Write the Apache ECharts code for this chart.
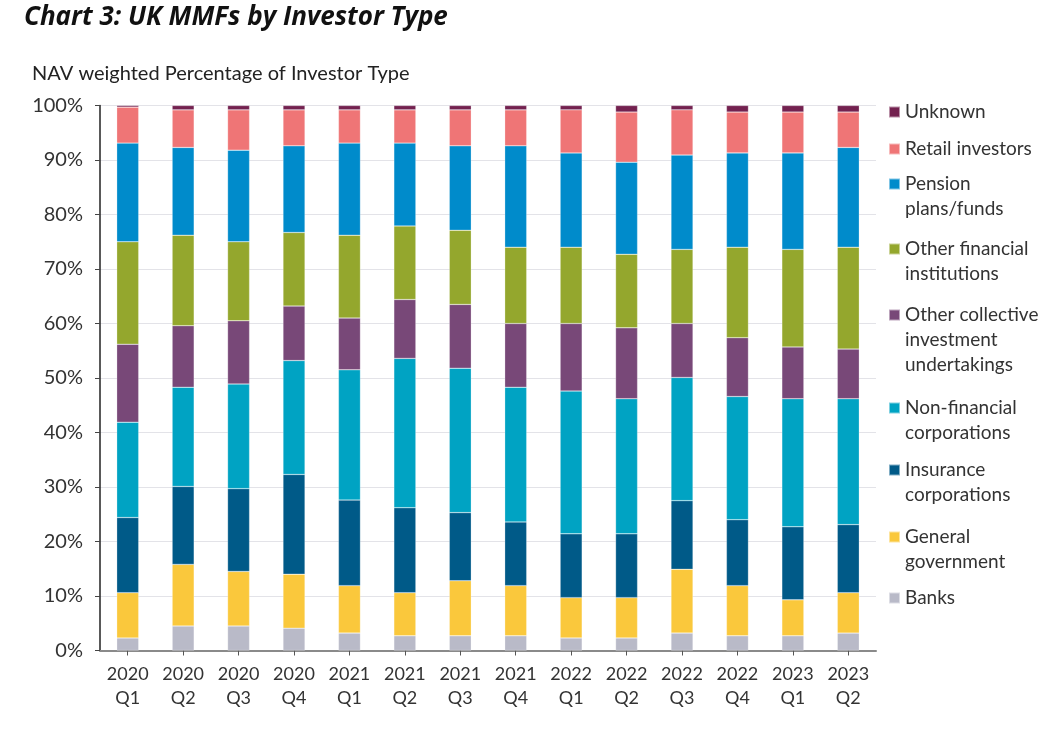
<!DOCTYPE html>
<html><head><meta charset="utf-8">
<script src="https://cdn.jsdelivr.net/npm/echarts@6/dist/echarts.min.js"></script>
<style>html,body{margin:0;padding:0;background:#fff}#c{width:1045px;height:730px}</style>
</head><body><div id="c"></div>
<script>
const categories = ['2020\nQ1','2020\nQ2','2020\nQ3','2020\nQ4','2021\nQ1','2021\nQ2','2021\nQ3','2021\nQ4','2022\nQ1','2022\nQ2','2022\nQ3','2022\nQ4','2023\nQ1','2023\nQ2'];
const banks     = [2.3, 4.5, 4.5, 4.1, 3.2, 2.7, 2.7, 2.7, 2.3, 2.3, 3.2, 2.7, 2.7, 3.2];
const generalGov= [8.3,11.3,10.0, 9.9, 8.7, 7.9,10.1, 9.2, 7.4, 7.4,11.7, 9.2, 6.6, 7.4];
const insurance = [13.8,14.3,15.2,18.3,15.7,15.6,12.5,11.7,11.7,11.7,12.6,12.1,13.4,12.5];
const nonFin    = [17.5,18.2,19.2,20.9,23.9,27.4,26.5,24.7,26.2,24.8,22.6,22.6,23.5,23.1];
const otherCIU  = [14.3,11.3,11.6,10.0, 9.5,10.8,11.7,11.7,12.4,13.0, 9.9,10.8, 9.5, 9.1];
const otherFin  = [18.8,16.6,14.5,13.5,15.2,13.5,13.6,14.0,14.0,13.5,13.6,16.6,17.9,18.7];
const pension   = [18.1,16.1,16.8,15.9,16.9,15.2,15.5,18.6,17.3,16.9,17.3,17.3,17.7,18.3];
const retail    = [6.6, 6.9, 7.4, 6.6, 6.1, 6.1, 6.6, 6.6, 7.9, 9.2, 8.3, 7.5, 7.5, 6.5];
const unknown   = [0.3, 0.8, 0.8, 0.8, 0.8, 0.8, 0.8, 0.8, 0.8, 1.2, 0.8, 1.2, 1.2, 1.2];
const yTicks = [0,10,20,30,40,50,60,70,80,90,100];

const seriesDefs = [
  {name:'Banks', data:banks, color:'#b9bac8', lines:['Banks'], y:598},
  {name:'General government', data:generalGov, color:'#fac83c', lines:['General','government'], y:537},
  {name:'Insurance corporations', data:insurance, color:'#005a88', lines:['Insurance','corporations'], y:470},
  {name:'Non-financial corporations', data:nonFin, color:'#00a3c3', lines:['Non-financial','corporations'], y:408},
  {name:'Other collective investment undertakings', data:otherCIU, color:'#784878', lines:['Other collective','investment','undertakings'], y:315},
  {name:'Other financial institutions', data:otherFin, color:'#94a72d', lines:['Other financial','institutions'], y:249},
  {name:'Pension plans/funds', data:pension, color:'#008bcb', lines:['Pension','plans/funds'], y:184},
  {name:'Retail investors', data:retail, color:'#ef7576', lines:['Retail investors'], y:149},
  {name:'Unknown', data:unknown, color:'#73214f', lines:['Unknown'], y:112}
];
const FONT = 'Lato';
const LH = 25;
const legends = seriesDefs.map(s => {
  const n = s.lines.length;
  return {
    orient:'vertical', left:888, top: s.y - (2*n-1)*LH/2, padding:0,
    itemWidth:11, itemHeight:11, itemGap:0, icon:'rect', selectedMode:false,
    formatter: () => '\u200b\n'.repeat(n-1) + s.lines.join('\n'),
    data:[s.name],
    textStyle:{fontFamily:FONT, fontSize:19, color:'#333', lineHeight:LH}
  };
});

const chart = echarts.init(document.getElementById('c'));
chart.setOption({
  animation:false,
  title:[
    {text:'Chart 3: UK MMFs by Investor Type', left:19, top:0,
     textStyle:{fontFamily:'Open Sans', fontStyle:'italic', fontWeight:'bold', fontSize:26, color:'#111'}},
    {text:'NAV weighted Percentage of Investor Type', left:27, top:59,
     textStyle:{fontFamily:FONT, fontWeight:'normal', fontSize:20, color:'#222'}}
  ],
  legend: legends,
  grid:{left:100, top:105.5, width:776, height:545, containLabel:false},
  xAxis:{type:'category', data:categories,
    axisLine:{lineStyle:{color:'#8a8a8a', width:2}},
    axisTick:{show:true, alignWithLabel:true, length:5, lineStyle:{color:'#555'}},
    axisLabel:{fontFamily:FONT, fontSize:18, color:'#333', lineHeight:24, margin:12, interval:0}
  },
  yAxis:{type:'value', min:0, max:100, interval:10,
    axisLine:{show:true, lineStyle:{color:'#222', width:1.5}},
    axisTick:{show:true, length:5, lineStyle:{color:'#444'}},
    splitLine:{lineStyle:{color:'#e3e3e8'}},
    axisLabel:{formatter:'{value}%', fontFamily:FONT, fontSize:20, color:'#333', margin:17}
  },
  series: seriesDefs.map(s => ({
    name:s.name, type:'bar', stack:'all', data:s.data, barWidth:22,
    itemStyle:{color:s.color, borderColor:'rgba(255,255,255,0.5)', borderWidth:0.5}
  }))
});
</script></body></html>
